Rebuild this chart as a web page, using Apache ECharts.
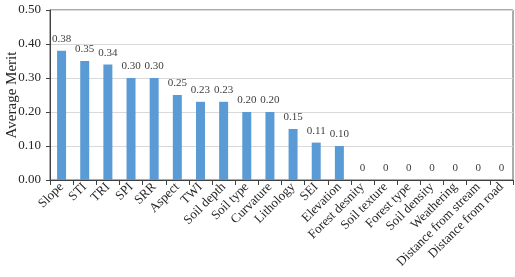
<!DOCTYPE html>
<html>
<head>
<meta charset="utf-8">
<script src="https://cdn.jsdelivr.net/npm/echarts@6/dist/echarts.min.js"></script>
<style>
  html, body { margin: 0; padding: 0; background: #fff; }
  #chart { width: 515px; height: 277px; }
</style>
</head>
<body>
<div id="chart"></div>
<script>
// factors and their average merit
var factors = ['Slope', 'STI', 'TRI', 'SPI', 'SRR', 'Aspect', 'TWI', 'Soil depth', 'Soil type',
  'Curvature', 'Lithology', 'SEI', 'Elevation', 'Forest desnity', 'Soil texture', 'Forest type',
  'Soil density', 'Weathering', 'Distance from stream', 'Distance from road']
var merit = [0.38, 0.35, 0.34, 0.30, 0.30, 0.25, 0.23, 0.23, 0.20, 0.20, 0.15, 0.11, 0.10,
  0, 0, 0, 0, 0, 0, 0]
var yTicks = [0, 0.1, 0.2, 0.3, 0.4, 0.5]

var font = 'Liberation Serif, DejaVu Serif, serif'
var chart = echarts.init(document.getElementById('chart'))
chart.setOption({
  animation: false,
  grid: {
    left: 50, right: 2, top: 10, bottom: 97,
    outerBoundsMode: 'none', containLabel: false,
    show: true, borderColor: '#595959', borderWidth: 1
  },
  xAxis: {
    type: 'category',
    data: factors,
    axisLine: { lineStyle: { color: '#404040' } },
    axisTick: { show: true, alignWithLabel: false, length: 5, lineStyle: { color: '#404040' } },
    axisLabel: { rotate: 45, interval: 0, color: '#262626', fontFamily: font, fontSize: 13, margin: 5 }
  },
  yAxis: {
    type: 'value',
    min: 0,
    max: yTicks[yTicks.length - 1],
    interval: 0.1,
    name: 'Average Merit',
    nameLocation: 'middle',
    nameGap: 30,
    nameMoveOverlap: false,
    nameTextStyle: { color: '#262626', fontFamily: font, fontSize: 15 },
    axisLine: { show: true, lineStyle: { color: '#404040' } },
    axisTick: { show: true, inside: false, length: 4, lineStyle: { color: '#404040' } },
    axisLabel: {
      color: '#262626', fontFamily: font, fontSize: 13, margin: 9,
      formatter: function (v) { return v.toFixed(2) }
    },
    splitLine: { lineStyle: { color: '#d9d9d9' } }
  },
  series: [{
    type: 'bar',
    data: merit,
    barWidth: 9,
    itemStyle: { color: '#5b9bd5' },
    label: {
      show: true,
      position: 'top',
      distance: 6,
      color: '#404040',
      fontFamily: font,
      fontSize: 11,
      formatter: function (p) { return p.value === 0 ? '0' : p.value.toFixed(2) }
    }
  }]
})
</script>
</body>
</html>
